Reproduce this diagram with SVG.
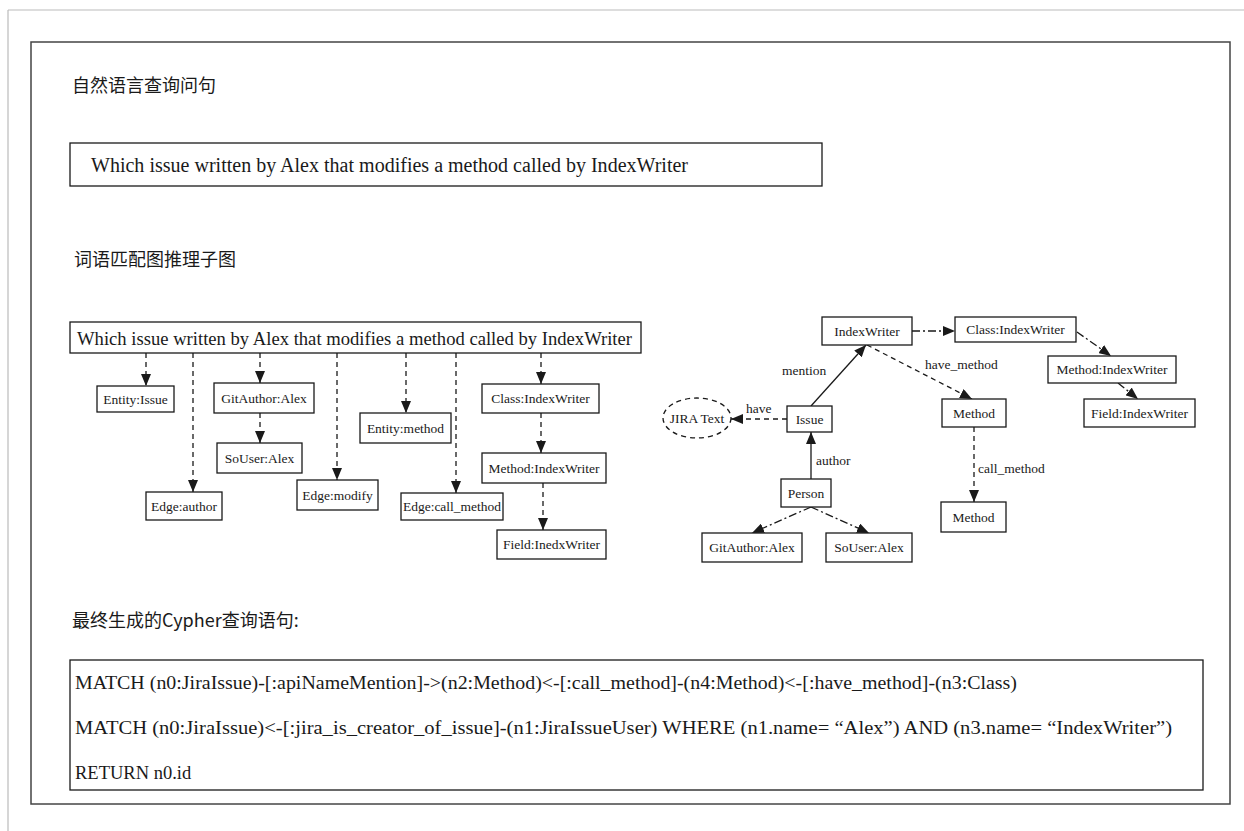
<svg xmlns="http://www.w3.org/2000/svg" width="1244" height="831" viewBox="0 0 1244 831">
<style>
  .t{font-family:"Liberation Serif","Times New Roman",serif;fill:#1a1a1a}
  .cn{font-family:"Noto Sans CJK SC","Liberation Serif",sans-serif;fill:#1a1a1a;font-size:18px}
  .n{font-size:13.5px;text-anchor:middle}
  .lb{font-size:13.5px}
  .box{fill:#fff;stroke:#1a1a1a;stroke-width:1.3}
  .e{fill:none;stroke:#1a1a1a;stroke-width:1.3}
  .d{stroke-dasharray:5,4}
  .dd{stroke-dasharray:8,3,2,3}
</style>
<defs>
  <marker id="ah" viewBox="0 0 12 10" refX="12" refY="5" markerWidth="12" markerHeight="10" orient="auto" markerUnits="userSpaceOnUse">
    <path d="M0,0 L12,5 L0,10 z" fill="#1a1a1a"/>
  </marker>
</defs>
<rect width="1244" height="831" fill="#fff"/>
<line x1="8" y1="10" x2="1244" y2="10" stroke="#bbb" stroke-width="1.2"/>
<line x1="8" y1="10" x2="8" y2="831" stroke="#bbb" stroke-width="1.2"/>
<rect x="31" y="42" width="1199" height="762" fill="none" stroke="#444" stroke-width="1.5"/>

<text class="cn" x="72" y="92">自然语言查询问句</text>
<g id="query-box">
  <rect class="box" x="70" y="143" width="752" height="43"/>
  <text class="t" x="91" y="172" font-size="20" textLength="597" lengthAdjust="spacingAndGlyphs">Which issue written by Alex that modifies a method called by IndexWriter</text>
</g>

<text class="cn" x="74" y="266">词语匹配图推理子图</text>

<g id="connectors">
  <line class="e d" x1="146" y1="353" x2="146" y2="386" marker-end="url(#ah)"/>
  <line class="e d" x1="193" y1="353" x2="193" y2="492" marker-end="url(#ah)"/>
  <line class="e d" x1="260" y1="353" x2="260" y2="383" marker-end="url(#ah)"/>
  <line class="e d" x1="260" y1="413" x2="260" y2="443" marker-end="url(#ah)"/>
  <line class="e d" x1="337" y1="353" x2="337" y2="480" marker-end="url(#ah)"/>
  <line class="e d" x1="406" y1="353" x2="406" y2="413" marker-end="url(#ah)"/>
  <line class="e d" x1="456" y1="353" x2="456" y2="493" marker-end="url(#ah)"/>
  <line class="e d" x1="541" y1="353" x2="541" y2="384" marker-end="url(#ah)"/>
  <line class="e d" x1="541" y1="413" x2="541" y2="453" marker-end="url(#ah)"/>
  <line class="e d" x1="543" y1="483" x2="543" y2="530" marker-end="url(#ah)"/>

  <line class="e dd" x1="912" y1="331" x2="955" y2="331" marker-end="url(#ah)"/>
  <line class="e dd" x1="1077" y1="332" x2="1111" y2="356" marker-end="url(#ah)"/>
  <line class="e dd" x1="1118" y1="383" x2="1138" y2="399" marker-end="url(#ah)"/>
  <line class="e d" x1="867" y1="345" x2="972" y2="399" marker-end="url(#ah)"/>
  <line class="e d" x1="974" y1="427" x2="974" y2="502" marker-end="url(#ah)"/>
  <line class="e" x1="811" y1="406" x2="866" y2="345" marker-end="url(#ah)"/>
  <line class="e d" x1="787" y1="419" x2="731" y2="419" marker-end="url(#ah)"/>
  <line class="e" x1="811" y1="479" x2="811" y2="432" marker-end="url(#ah)"/>
  <line class="e dd" x1="811" y1="507" x2="752" y2="533" marker-end="url(#ah)"/>
  <line class="e dd" x1="811" y1="507" x2="869" y2="533" marker-end="url(#ah)"/>

  <text class="t lb" x="782" y="375">mention</text>
  <text class="t lb" x="746" y="413">have</text>
  <text class="t lb" x="816" y="465">author</text>
  <text class="t lb" x="925" y="369">have_method</text>
  <text class="t lb" x="978" y="473">call_method</text>
</g>

<g id="sentence">
  <rect class="box" x="70" y="322" width="571" height="31"/>
  <text class="t" x="77" y="345" font-size="18.5" textLength="555" lengthAdjust="spacingAndGlyphs">Which issue written by Alex that modifies a method called by IndexWriter</text>
</g>
<g id="entity-issue"><rect class="box" x="97" y="386" width="77" height="26"/><text class="t n" x="135.5" y="403.5">Entity:Issue</text></g>
<g id="edge-author"><rect class="box" x="146" y="492" width="76" height="28"/><text class="t n" x="184" y="510.5">Edge:author</text></g>
<g id="gitauthor-alex-l"><rect class="box" x="214" y="383" width="100" height="30"/><text class="t n" x="264" y="402.5">GitAuthor:Alex</text></g>
<g id="souser-alex-l"><rect class="box" x="217" y="443" width="85" height="30"/><text class="t n" x="259.5" y="462.5">SoUser:Alex</text></g>
<g id="edge-modify"><rect class="box" x="297" y="480" width="81" height="30"/><text class="t n" x="337.5" y="499.5">Edge:modify</text></g>
<g id="entity-method"><rect class="box" x="360" y="413" width="91" height="30"/><text class="t n" x="405.5" y="432.5">Entity:method</text></g>
<g id="edge-call-method"><rect class="box" x="401" y="493" width="102" height="27"/><text class="t n" x="452" y="511">Edge:call_method</text></g>
<g id="class-indexwriter-l"><rect class="box" x="482" y="384" width="117" height="29"/><text class="t n" x="540.5" y="403">Class:IndexWriter</text></g>
<g id="method-indexwriter-l"><rect class="box" x="482" y="453" width="124" height="30"/><text class="t n" x="544" y="472.5">Method:IndexWriter</text></g>
<g id="field-inedxwriter"><rect class="box" x="497" y="530" width="109" height="29"/><text class="t n" x="551.5" y="549">Field:InedxWriter</text></g>

<g id="indexwriter"><rect class="box" x="822" y="317" width="90" height="28"/><text class="t n" x="867" y="335.5">IndexWriter</text></g>
<g id="class-indexwriter-r"><rect class="box" x="955" y="317" width="121" height="25"/><text class="t n" x="1015.5" y="334">Class:IndexWriter</text></g>
<g id="method-indexwriter-r"><rect class="box" x="1048" y="356" width="128" height="27"/><text class="t n" x="1112" y="374">Method:IndexWriter</text></g>
<g id="field-indexwriter-r"><rect class="box" x="1084" y="399" width="111" height="28"/><text class="t n" x="1139.5" y="417.5">Field:IndexWriter</text></g>
<g id="method-1"><rect class="box" x="942" y="399" width="64" height="28"/><text class="t n" x="974" y="417.5">Method</text></g>
<g id="method-2"><rect class="box" x="941" y="502" width="65" height="30"/><text class="t n" x="973.5" y="521.5">Method</text></g>
<g id="issue"><rect class="box" x="787" y="406" width="45" height="26"/><text class="t n" x="809.5" y="423.5">Issue</text></g>
<g id="jira-text"><ellipse cx="697" cy="418" rx="34" ry="20" fill="#fff" stroke="#1a1a1a" stroke-width="1.3" stroke-dasharray="5,4"/><text class="t n" x="697" y="422.5">JIRA Text</text></g>
<g id="person"><rect class="box" x="781" y="479" width="50" height="28"/><text class="t n" x="806" y="497.5">Person</text></g>
<g id="gitauthor-alex-r"><rect class="box" x="702" y="533" width="100" height="29"/><text class="t n" x="752" y="552">GitAuthor:Alex</text></g>
<g id="souser-alex-r"><rect class="box" x="826" y="533" width="86" height="29"/><text class="t n" x="869" y="552">SoUser:Alex</text></g>

<text class="cn" x="72" y="627">最终生成的Cypher查询语句:</text>
<g id="cypher-box">
  <rect class="box" x="70" y="660" width="1133" height="130"/>
  <text class="t" x="75" y="689" font-size="18.5" textLength="942" lengthAdjust="spacingAndGlyphs">MATCH (n0:JiraIssue)-[:apiNameMention]-&gt;(n2:Method)&lt;-[:call_method]-(n4:Method)&lt;-[:have_method]-(n3:Class)</text>
  <text class="t" x="75" y="734" font-size="18.5" textLength="1097" lengthAdjust="spacingAndGlyphs">MATCH (n0:JiraIssue)&lt;-[:jira_is_creator_of_issue]-(n1:JiraIssueUser) WHERE (n1.name= “Alex”) AND (n3.name= “IndexWriter”)</text>
  <text class="t" x="75" y="779" font-size="18.5">RETURN n0.id</text>
</g>
</svg>
